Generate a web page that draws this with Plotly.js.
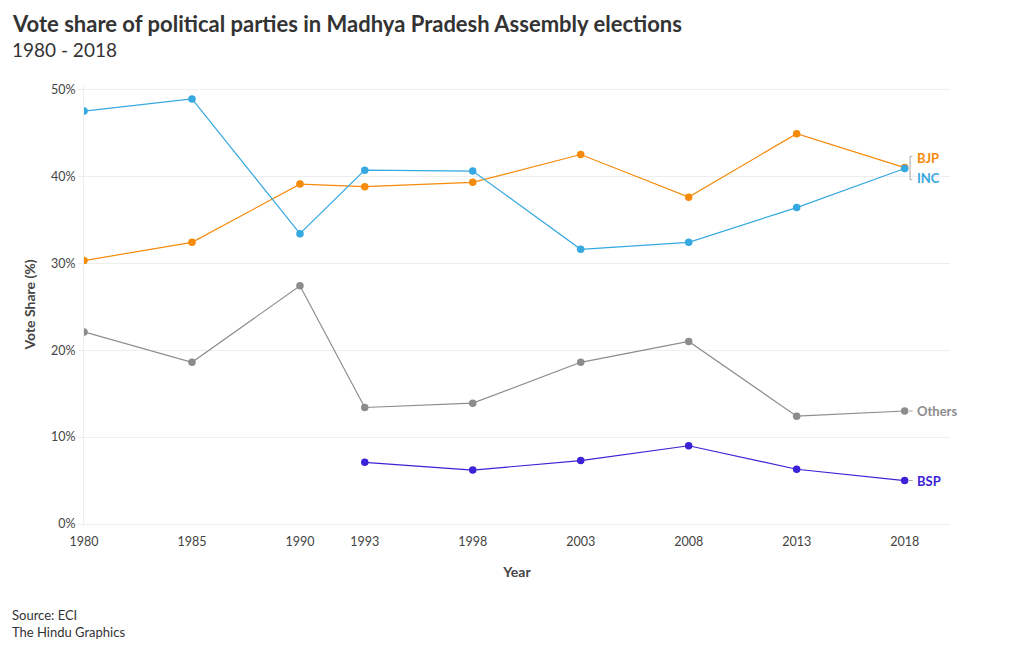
<!DOCTYPE html>
<html>
<head>
<meta charset="utf-8">
<script src="https://cdn.plot.ly/plotly-3.0.1.min.js"></script>
<style>html,body{margin:0;padding:0;background:#fff;}#chart{width:1020px;height:650px;}</style>
</head>
<body>
<div id="chart"></div>
<script>
const years = [1980, 1985, 1990, 1993, 1998, 2003, 2008, 2013, 2018];
const bspYears = [1993, 1998, 2003, 2008, 2013, 2018];
const inc = [47.5, 48.9, 33.4, 40.7, 40.6, 31.6, 32.4, 36.4, 40.9];
const bjp = [30.3, 32.4, 39.1, 38.8, 39.3, 42.5, 37.6, 44.9, 41.0];
const others = [22.1, 18.6, 27.4, 13.4, 13.9, 18.6, 21.0, 12.4, 13.0];
const bsp = [7.1, 6.2, 7.3, 9.0, 6.3, 5.0];
const tickYears = [1980, 1985, 1990, 1993, 1998, 2003, 2008, 2013, 2018];

const FONT = "Lato, 'Open Sans', sans-serif";
const colors = {INC: '#35a8e0', BJP: '#f58a0b', Others: '#8c8c8c', BSP: '#3a23d6'};

function tr(name, x, y) {
  return {x: x, y: y, name: name, type: 'scatter', mode: 'lines+markers',
    line: {color: colors[name], width: 1.2}, marker: {color: colors[name], size: 7.5},
    hoverinfo: 'x+y+name'};
}
const data = [tr('Others', years, others), tr('BSP', bspYears, bsp), tr('BJP', years, bjp), tr('INC', years, inc)];

const last = years.length - 1;
function lab(text, y, color, ys) {
  return {x: 2018, y: y, xref: 'x', yref: 'y', text: '<b>' + text + '</b>', showarrow: false,
    xanchor: 'left', xshift: 10, yshift: ys || 0, font: {family: FONT, size: 13, color: color}};
}
const layout = {
  width: 1020, height: 650,
  paper_bgcolor: '#fff', plot_bgcolor: '#fff',
  margin: {l: 84, r: 70, t: 85, b: 126},
  showlegend: false,
  font: {family: FONT, size: 12, color: '#444'},
  xaxis: {range: [1980, 2020.1], tickvals: tickYears, ticktext: tickYears.map(String),
    showgrid: false, zeroline: false, showline: true, linecolor: '#eee', linewidth: 1,
    ticks: '', ticklabelstandoff: 6, tickfont: {size: 12.5, color: '#444'},
    title: {text: '<b>Year</b>', font: {size: 14, color: '#444'}, standoff: 19}},
  yaxis: {range: [0, 50.5], tickvals: [0, 10, 20, 30, 40, 50], ticktext: ['0%', '10%', '20%', '30%', '40%', '50%'],
    showgrid: true, gridcolor: '#eee', zeroline: false, showline: true, linecolor: '#eee',
    ticks: 'outside', ticklen: 5, tickcolor: '#eee', tickfont: {size: 12.5, color: '#444'},
    title: {text: '<b>Vote Share (%)</b>', font: {size: 14, color: '#444'}, standoff: 12}},
  shapes: [
    {type: 'path', xref: 'x', yref: 'y', path: 'M 2018.35,42.3 L 2018.25,42.3 L 2018.25,39.6 L 2018.35,39.6',
      line: {color: '#aaa', width: 1}},
    {type: 'line', xref: 'x', yref: 'y', x0: 2018.2, x1: 2018.38, y0: others[last], y1: others[last], line: {color: '#aaa', width: 1}},
    {type: 'line', xref: 'x', yref: 'y', x0: 2018.2, x1: 2018.38, y0: bsp[bsp.length - 1], y1: bsp[bsp.length - 1], line: {color: '#aaa', width: 1}}
  ],
  annotations: [
    lab('BJP', bjp[last], colors.BJP, 10),
    lab('INC', inc[last], colors.INC, -10),
    lab('Others', others[last], colors.Others),
    lab('BSP', bsp[bsp.length - 1], colors.BSP),
    {xref: 'paper', yref: 'paper', x: -0.085, y: 1.139, xanchor: 'left', yanchor: 'middle', showarrow: false,
      text: '<b>Vote share of political parties in Madhya Pradesh Assembly elections</b>', font: {family: FONT, size: 22, color: '#333'}},
    {xref: 'paper', yref: 'paper', x: -0.085, y: 1.08, xanchor: 'left', yanchor: 'middle', showarrow: false,
      text: '1980 - 2018', font: {family: FONT, size: 19, color: '#333'}},
    {xref: 'paper', yref: 'paper', x: -0.085, y: -0.185, xanchor: 'left', yanchor: 'top', showarrow: false, align: 'left',
      text: 'Source: ECI<br>The Hindu Graphics', font: {family: FONT, size: 13, color: '#333'}}
  ]
};
Plotly.newPlot('chart', data, layout, {displayModeBar: false});
</script>
</body>
</html>
